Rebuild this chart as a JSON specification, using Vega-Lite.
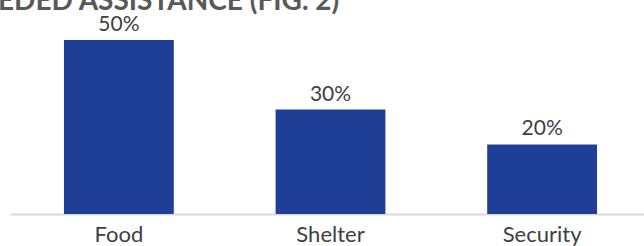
{
  "$schema": "https://vega.github.io/schema/vega-lite/v6.json",
  "autosize": "none",
  "width": 644,
  "height": 174,
  "padding": {"top": 40, "left": 0, "right": 0, "bottom": 32},
  "background": "white",
  "title": {
    "text": "EDED ASSISTANCE (FIG. 2)",
    "anchor": "start",
    "frame": "group",
    "baseline": "alphabetic",
    "offset": 0,
    "dy": 24,
    "dx": -2,
    "font": "Lato",
    "fontSize": 28,
    "fontWeight": "bold",
    "color": "#595959"
  },
  "data": {
    "values": [
      {"category": "Food", "pct": 0.5},
      {"category": "Shelter", "pct": 0.3},
      {"category": "Security", "pct": 0.2}
    ]
  },
  "encoding": {
    "x": {
      "field": "category",
      "type": "nominal",
      "sort": null,
      "scale": {"range": [10, 651], "paddingInner": 0.481, "paddingOuter": 0.255},
      "axis": {
        "title": null,
        "ticks": false,
        "labelAngle": 0,
        "labelFont": "Lato",
        "labelFontSize": 22,
        "labelColor": "#404040",
        "labelPadding": 10,
        "domainColor": "#D9D9D9",
        "domainWidth": 2
      }
    },
    "y": {
      "field": "pct",
      "type": "quantitative",
      "scale": {"domain": [0, 0.5], "nice": false},
      "axis": null
    }
  },
  "layer": [
    {"mark": {"type": "bar", "color": "#1E3F95"}},
    {
      "mark": {"type": "text", "baseline": "alphabetic", "dy": -9, "font": "Lato", "fontSize": 21, "color": "#404040"},
      "encoding": {"text": {"field": "pct", "type": "quantitative", "format": ".0%"}}
    }
  ],
  "config": {"view": {"stroke": null}}
}
